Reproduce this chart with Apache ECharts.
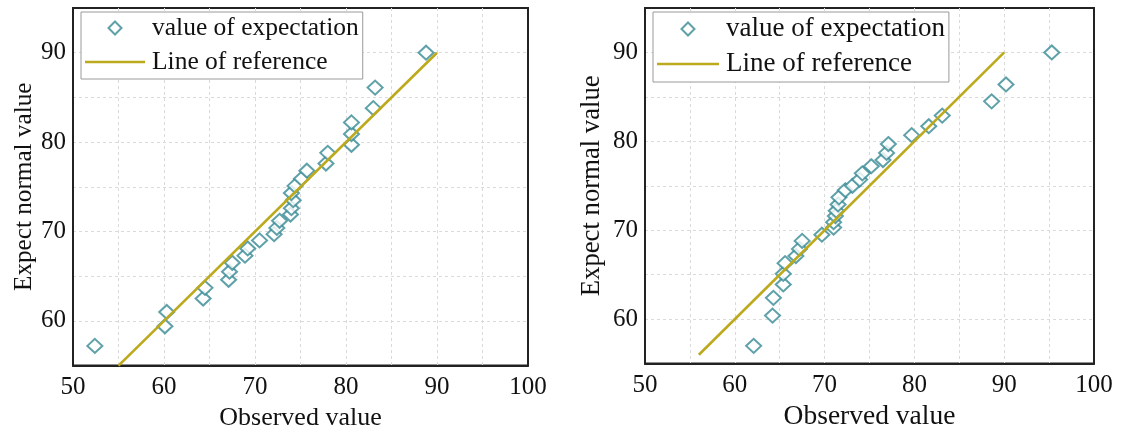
<!DOCTYPE html>
<html><head><meta charset="utf-8">
<script src="https://cdn.jsdelivr.net/npm/echarts@6/dist/echarts.min.js"></script>
<style>html,body{margin:0;padding:0;background:#fff}#c{width:1121px;height:436px}</style>
</head><body><div id="c"></div>
<script>
const seriesNames = ['value of expectation', 'Line of reference'];
const xAxisName = 'Observed value';
const yAxisName = 'Expect normal value';
const xTickLabels = [50, 60, 70, 80, 90, 100];
const yTickLabels = [60, 70, 80, 90];

const leftObserved = [52.4, 60.1, 60.3, 64.3, 64.5, 67.1, 67.2, 67.5, 68.9, 69.2, 70.5, 72.1, 72.4, 72.7, 73.9, 74.0, 74.2, 74.0, 74.4, 75.1, 75.7, 77.8, 78.0, 80.6, 80.6, 80.6, 83.0, 83.2, 88.8];
const leftExpected = [57.2, 59.4, 61.0, 62.5, 63.7, 64.6, 65.5, 66.5, 67.3, 68.1, 69.0, 69.7, 70.4, 71.2, 71.9, 72.6, 73.5, 74.3, 75.1, 75.9, 76.8, 77.6, 78.8, 79.7, 80.9, 82.2, 83.8, 86.1, 90.0];
const rightObserved = [62.1, 64.2, 64.3, 65.4, 65.4, 65.6, 66.8, 67.2, 67.5, 69.7, 71.0, 71.0, 71.2, 71.3, 71.5, 71.6, 72.3, 73.1, 73.9, 74.2, 75.2, 76.5, 76.9, 77.1, 79.7, 81.6, 83.1, 88.6, 90.2, 95.3];
const rightExpected = [57.0, 60.4, 62.4, 63.9, 65.1, 66.3, 67.1, 67.9, 68.8, 69.5, 70.3, 70.9, 71.6, 72.2, 72.9, 73.7, 74.5, 75.0, 75.7, 76.4, 77.2, 77.9, 78.7, 79.7, 80.7, 81.7, 82.9, 84.5, 86.4, 90.0];
const leftRefLine = [[55, 55], [90, 90]];
const rightRefLine = [[56, 56], [90, 90]];

const FONT = "'Liberation Serif', 'Times New Roman', serif";
const TEAL = '#378a94';
const OLIVE = '#bca91c';

function pairs(xs, ys) { return xs.map((x, i) => [x, ys[i]]); }
// legend icons: the lone moveTo points fix the icon box at w x 13
function diamondIcon(w) { const c = w / 2; return `path://M0,0 M${w},13 M${c},0 L${c + 6.5},6.5 L${c},13 L${c - 6.5},6.5 Z`; }
function lineIcon(w) { return `path://M0,0 M${w},13 M0,5.2 L${w},5.2 L${w},7.8 L0,7.8 Z`; }

const splitStyle = { show: true, showMinLine: false, showMaxLine: false,
  lineStyle: { color: '#dadada', type: [3, 3], width: 1 } };

function xAxis(gi, nameGap, nameSize) {
  return {
    type: 'value', gridIndex: gi, min: 50, max: 100, interval: 5,
    name: xAxisName, nameLocation: 'middle', nameGap: nameGap,
    nameTextStyle: { fontFamily: FONT, fontSize: nameSize, color: '#111' },
    axisLine: { show: true, lineStyle: { color: '#222', width: 2 } },
    axisTick: { show: false },
    axisLabel: { fontFamily: FONT, fontSize: 25, color: '#111', margin: 9.5,
      formatter: v => xTickLabels.includes(v) ? String(v) : '' },
    splitLine: splitStyle
  };
}
function yAxis(gi, nameGap, nameSize) {
  return {
    type: 'value', gridIndex: gi, min: 55, max: 95, interval: 5,
    name: yAxisName, nameLocation: 'middle', nameGap: nameGap,
    nameTextStyle: { fontFamily: FONT, fontSize: nameSize, color: '#111' },
    axisLine: { show: true, lineStyle: { color: '#222', width: 2 } },
    axisTick: { show: false },
    axisLabel: { fontFamily: FONT, fontSize: 25, color: '#111', margin: 7,
      formatter: v => yTickLabels.includes(v) ? String(v) : '' },
    splitLine: splitStyle
  };
}
function legend(left, w, fontSize, lineHeight, gap) {
  return {
    left: left, top: 12, orient: 'vertical',
    data: [
      { name: seriesNames[0], icon: diamondIcon(w) },
      { name: seriesNames[1], icon: lineIcon(w), itemStyle: { color: OLIVE, borderWidth: 0 }, lineStyle: { color: OLIVE, width: 2.6 } }
    ],
    itemWidth: w, itemHeight: 13, itemGap: gap,
    padding: [3, 4, 4, 3],
    borderColor: '#9a9a9a', borderWidth: 1, backgroundColor: '#fff',
    selectedMode: false,
    textStyle: { fontFamily: FONT, fontSize: fontSize, color: '#111', lineHeight: lineHeight, padding: [0, 0, 0, 2] }
  };
}
function scatter(gi, xs, ys) {
  return {
    name: seriesNames[0], type: 'scatter', xAxisIndex: gi, yAxisIndex: gi,
    data: pairs(xs, ys), symbol: 'diamond', symbolSize: [15, 14],
    itemStyle: { color: '#fff', borderColor: TEAL, borderWidth: 2 }, z: 2
  };
}
function refLine(gi, d) {
  return {
    name: seriesNames[1], type: 'line', xAxisIndex: gi, yAxisIndex: gi,
    data: d, symbol: 'none', showSymbol: false,
    lineStyle: { color: OLIVE, width: 2.6 }, itemStyle: { color: OLIVE }, z: 3
  };
}

const chart = echarts.init(document.getElementById('c'), null, { renderer: 'canvas' });
chart.setOption({
  animation: false,
  backgroundColor: '#fff',
  grid: [
    { left: 73, right: 593, top: 8, bottom: 62, show: true, borderColor: '#222', borderWidth: 2, containLabel: false },
    { left: 645, right: 27, top: 8, bottom: 65, show: true, borderColor: '#222', borderWidth: 2, containLabel: false }
  ],
  xAxis: [xAxis(0, 34, 26), xAxis(1, 36, 27.5)],
  yAxis: [yAxis(0, 36, 25.2), yAxis(1, 40, 26.7)],
  legend: [legend(81, 60, 25.5, 26, 8), legend(653, 62, 27, 28, 7)],
  series: [
    scatter(0, leftObserved, leftExpected), refLine(0, leftRefLine),
    scatter(1, rightObserved, rightExpected), refLine(1, rightRefLine)
  ]
});
</script></body></html>
